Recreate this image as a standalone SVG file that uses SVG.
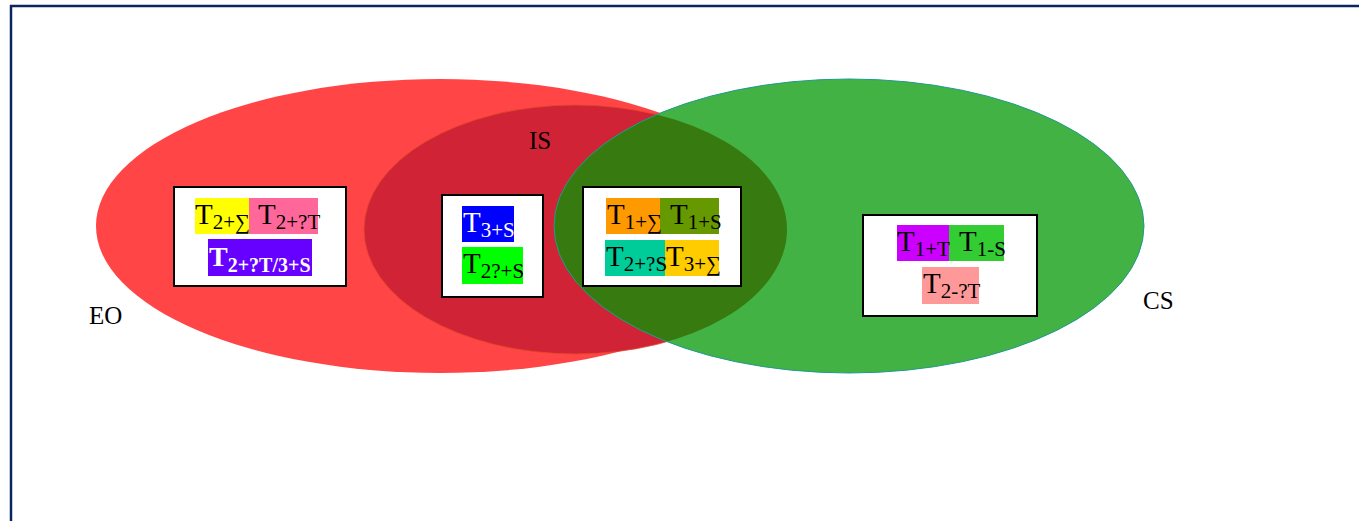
<svg xmlns="http://www.w3.org/2000/svg" width="1359" height="521" viewBox="0 0 1359 521">
<style>
text{font-family:"Liberation Serif","Times New Roman",serif;fill:#000}
.big{font-size:29px}
.sub{font-size:21px}
.bb{font-size:28px;font-weight:bold}
.bs{font-size:20px;font-weight:bold}
.w{fill:#fff}
.box{fill:#fff;stroke:#000;stroke-width:2}
.lbl{font-size:25px}
</style>
<defs>
<clipPath id="gclip"><ellipse cx="849" cy="226" rx="295" ry="147"/></clipPath>
</defs>
<rect x="0" y="0" width="1359" height="521" fill="#fff"/>
<g id="frame" stroke="#0b2462" stroke-width="2.5" fill="none">
<line x1="10" y1="6" x2="1359" y2="6"/>
<line x1="11" y1="5" x2="11" y2="521"/>
</g>
<g id="EO">
<ellipse cx="440" cy="226" rx="344" ry="147" fill="#ff4545"/>
<text class="lbl" x="89" y="324">EO</text>
</g>
<g id="IS">
<ellipse cx="575.5" cy="229.5" rx="211.5" ry="124.5" fill="#d12336" stroke="#e04a2a" stroke-width="0.8"/>
<text class="lbl" x="529" y="149">IS</text>
</g>
<g id="CS">
<ellipse cx="849" cy="226" rx="295" ry="147" fill="#43b244"/>
<ellipse cx="575.5" cy="229.5" rx="211.5" ry="124.5" fill="#367a10" clip-path="url(#gclip)"/>
<ellipse cx="849" cy="226" rx="295" ry="147" fill="none" stroke="#1f9a8c" stroke-width="1"/>
<text class="lbl" x="1143" y="309">CS</text>
</g>
<g id="box-EO">
<rect class="box" x="174" y="187" width="172" height="99"/>
<rect x="195" y="198" width="54" height="36" fill="#ffff00"/>
<rect x="249" y="198" width="69" height="36" fill="#ff6699"/>
<rect x="208" y="239" width="104" height="37" fill="#6600ff"/>
<text x="195" y="224"><tspan class="big">T</tspan><tspan class="sub" dy="5">2+∑</tspan></text>
<text x="258" y="224"><tspan class="big">T</tspan><tspan class="sub" dy="5">2+?T</tspan></text>
<text class="w" x="209" y="266"><tspan class="bb w">T</tspan><tspan class="bs w" dy="6">2+?T/3+S</tspan></text>
</g>
<g id="box-IS">
<rect class="box" x="442" y="195" width="101" height="102"/>
<rect x="462" y="206" width="52" height="36" fill="#0000ff"/>
<rect x="462" y="247" width="61" height="37" fill="#00ff00"/>
<text x="463" y="232"><tspan class="big w">T</tspan><tspan class="sub w" dy="5">3+S</tspan></text>
<text x="463" y="273"><tspan class="big">T</tspan><tspan class="sub" dy="5">2?+S</tspan></text>
</g>
<g id="box-mid">
<rect class="box" x="583" y="187" width="158" height="99"/>
<rect x="606" y="198" width="54" height="36" fill="#ff9900"/>
<rect x="660" y="198" width="59" height="36" fill="#669900"/>
<rect x="605" y="240" width="60" height="36" fill="#00cc99"/>
<rect x="665" y="240" width="54" height="36" fill="#ffcc00"/>
<text x="607" y="224"><tspan class="big">T</tspan><tspan class="sub" dy="5">1+∑</tspan></text>
<text x="670" y="224"><tspan class="big">T</tspan><tspan class="sub" dy="5">1+S</tspan></text>
<text x="606" y="266"><tspan class="big">T</tspan><tspan class="sub" dy="5">2+?S</tspan></text>
<text x="666" y="266"><tspan class="big">T</tspan><tspan class="sub" dy="5">3+∑</tspan></text>
</g>
<g id="box-CS">
<rect class="box" x="863" y="215" width="174" height="101"/>
<rect x="897" y="225" width="52" height="36" fill="#cc00ff"/>
<rect x="949" y="225" width="55" height="36" fill="#33cc33"/>
<rect x="922" y="267" width="57" height="37" fill="#ff9999"/>
<text x="897" y="251"><tspan class="big">T</tspan><tspan class="sub" dy="5">1+T</tspan></text>
<text x="959" y="251"><tspan class="big">T</tspan><tspan class="sub" dy="5">1-S</tspan></text>
<text x="923" y="293"><tspan class="big">T</tspan><tspan class="sub" dy="5">2-?T</tspan></text>
</g>
</svg>
